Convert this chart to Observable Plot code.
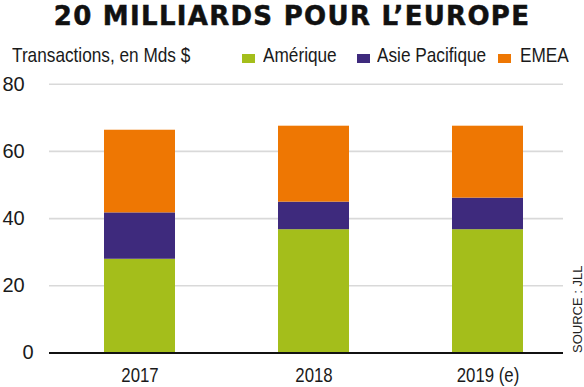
<!DOCTYPE html>
<html>
<head>
<meta charset="utf-8">
<script src="https://cdn.jsdelivr.net/npm/d3@7"></script>
<script src="https://cdn.jsdelivr.net/npm/@observablehq/plot@0.6"></script>
<style>
  html, body { margin: 0; padding: 0; background: #fff; }
  #wrap { position: relative; width: 584px; height: 387px; overflow: hidden; }
  #title { position: absolute; left: 0; top: 3px; width: 584px; text-align: center;
    font-family: "DejaVu Sans", sans-serif; font-weight: bold; font-size: 26px; line-height: 26px;
    letter-spacing: 1.3px; color: #111; white-space: nowrap; -webkit-text-stroke: 0.5px #111; }
  .lbl { position: absolute; font-family: "Liberation Sans", Arial, sans-serif;
    font-size: 21px; line-height: 21px; color: #1a1a1a; white-space: nowrap; top: 44.4px;
    transform: scaleX(0.82); transform-origin: 0 50%; }
  .sw { position: absolute; width: 13px; height: 9px; top: 54px; }
  #chart { position: absolute; left: 0; top: 70px; }
</style>
</head>
<body>
<div id="wrap">
  <div id="title">20 MILLIARDS POUR L’EUROPE</div>
  <div class="lbl" style="left:12px">Transactions, en Mds $</div>
  <div id="legend"></div>
  <div id="chart"></div>
</div>
<script>
const years = ["2017", "2018", "2019 (e)"];
const series = ["Amérique", "Asie Pacifique", "EMEA"];
const colors = ["#a4be1b", "#3e2a7d", "#ee7703"];
const amerique = [27.9, 36.7, 36.7];
const asiePacifique = [13.8, 8.2, 9.4];
const emea = [24.6, 22.6, 21.4];
const yTicks = [20, 40, 60, 80];
const sourceText = "SOURCE : JLL";

const valuesBySeries = [amerique, asiePacifique, emea];
const data = [];
years.forEach((y, i) => series.forEach((s, j) => data.push({year: y, series: s, value: valuesBySeries[j][i]})));

// legend
const legend = document.getElementById("legend");
const swX = [241.7, 356.7, 498];
const txX = [263, 376.7, 520];
series.forEach((s, j) => {
  const sw = document.createElement("div");
  sw.className = "sw"; sw.style.left = swX[j] + "px"; sw.style.background = colors[j];
  legend.appendChild(sw);
  const t = document.createElement("div");
  t.className = "lbl"; t.style.left = txX[j] + "px"; t.textContent = s;
  legend.appendChild(t);
});

const chart = Plot.plot({
  width: 584,
  height: 317,
  marginLeft: 49,
  marginRight: 21,
  marginTop: 13.7,
  marginBottom: 34.5,
  style: {fontFamily: "Liberation Sans, Arial, sans-serif", fontSize: "20.5px", color: "#1a1a1a", background: "transparent"},
  x: {domain: years, paddingInner: 0.594, paddingOuter: 0.2715, align: 0.574, label: null},
  y: {domain: [0, 80], label: null},
  color: {domain: series, range: colors},
  marks: [
    Plot.ruleY(yTicks, {stroke: "#d9d9d9", strokeWidth: 1.6}),
    Plot.barY(data, {x: "year", y: "value", fill: "series"}),
    Plot.ruleY([0], {stroke: "#111", strokeWidth: 2}),
    Plot.axisX({tickSize: 0, tickPadding: 14.5, fontSize: "20.5px", label: null}),
    Plot.axisY(yTicks, {tickSize: 0, tickPadding: 47, textAnchor: "start", fontSize: "20px", label: null}),
    Plot.axisY([0], {tickSize: 0, tickPadding: 16, textAnchor: "end", fontSize: "20px", label: null}),
    Plot.text([sourceText], {frameAnchor: "bottom-right", rotate: -90, textAnchor: "start", lineAnchor: "bottom", dx: 18.7, fontSize: "13px", fill: "#222"})
  ]
});
// condensed look for the x tick labels (narrow font not installed)
d3.select(chart).selectAll("g[aria-label='x-axis tick label'] text")
  .attr("transform", function () { return (this.getAttribute("transform") || "") + " scale(0.82,1)"; });
document.getElementById("chart").appendChild(chart);
</script>
</body>
</html>
